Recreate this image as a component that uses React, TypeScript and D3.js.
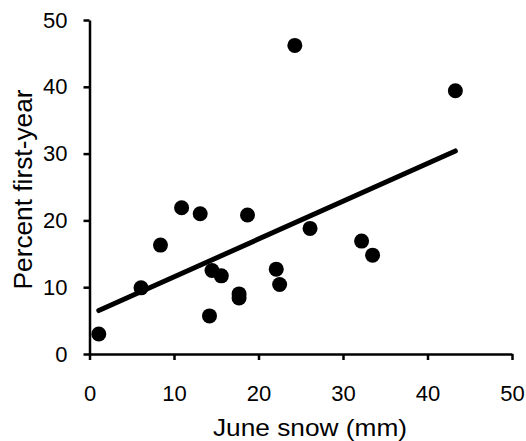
import React, { useEffect, useRef } from 'react';
import * as d3 from 'd3';

const W = 526;
const H = 441;

// June snow (mm) vs percent first-year
const snowMm = [1.1, 6.1, 8.4, 10.9, 13.1, 14.2, 14.5, 15.6, 17.7, 17.7, 18.7, 22.1, 22.5, 24.3, 26.1, 32.2, 33.5, 43.3];
const pctFirstYear = [3.0, 9.9, 16.3, 21.9, 21.0, 5.7, 12.5, 11.7, 9.0, 8.4, 20.8, 12.7, 10.4, 46.2, 18.8, 16.9, 14.8, 39.4];

// fitted trend line endpoints
const trendX = [1.1, 43.3];
const trendY = [6.5, 30.4];

const xTicks = [0, 10, 20, 30, 40, 50];
const yTicks = [0, 10, 20, 30, 40, 50];

const font = '"Liberation Sans", Arial, sans-serif';

const Chart = () => {
  const svgRef = useRef<SVGSVGElement>(null);

  useEffect(() => {
    const svg = d3.select(svgRef.current);
    svg.selectAll('*').remove();

    const x = d3.scaleLinear().domain([0, 50]).range([89.5, 512]);
    const y = d3.scaleLinear().domain([0, 50]).range([354, 20]);

    const xAxis = svg.append('g')
      .attr('transform', `translate(0,${y(0)})`)
      .call(d3.axisBottom(x).tickValues(xTicks).tickSize(6).tickPadding(25).tickSizeOuter(0));
    const yAxis = svg.append('g')
      .attr('transform', `translate(${x(0)},0)`)
      .call(d3.axisLeft(y).tickValues(yTicks).tickSize(6).tickPadding(16).tickSizeOuter(0));

    [xAxis, yAxis].forEach(g => {
      g.select('.domain').attr('stroke', '#000').attr('stroke-width', 2.5);
      g.selectAll('.tick line').attr('stroke', '#000').attr('stroke-width', 2.5);
      g.selectAll('.tick text')
        .attr('fill', '#000')
        .style('font-family', font)
        .style('font-size', '22px');
    });

    const pts = snowMm.map((s, i) => ({ s, p: pctFirstYear[i] }));
    svg.append('g')
      .selectAll('circle')
      .data(pts)
      .join('circle')
      .attr('cx', d => x(d.s))
      .attr('cy', d => y(d.p))
      .attr('r', 7.5)
      .attr('fill', '#000');

    const line = d3.line<number>()
      .x(d => x(d))
      .y((d, i) => y(trendY[i]));
    svg.append('path')
      .datum(trendX)
      .attr('d', line)
      .attr('fill', 'none')
      .attr('stroke', '#000')
      .attr('stroke-width', 5)
      .attr('stroke-linecap', 'round');

    svg.append('text')
      .attr('x', 310)
      .attr('y', 436)
      .attr('text-anchor', 'middle')
      .attr('textLength', 194)
      .attr('lengthAdjust', 'spacingAndGlyphs')
      .style('font-family', font)
      .style('font-size', '24px')
      .text('June snow (mm)');

    svg.append('text')
      .attr('transform', `translate(32,189.5) rotate(-90)`)
      .attr('text-anchor', 'middle')
      .attr('textLength', 200)
      .attr('lengthAdjust', 'spacingAndGlyphs')
      .style('font-family', font)
      .style('font-size', '25px')
      .text('Percent first-year');
  }, []);

  return <svg ref={svgRef} width={W} height={H} style={{ display: 'block', background: '#fff' }} />;
};

export default function App() {
  return (
    <div style={{ position: 'absolute', left: 0, top: 0 }}>
      <Chart />
    </div>
  );
}
